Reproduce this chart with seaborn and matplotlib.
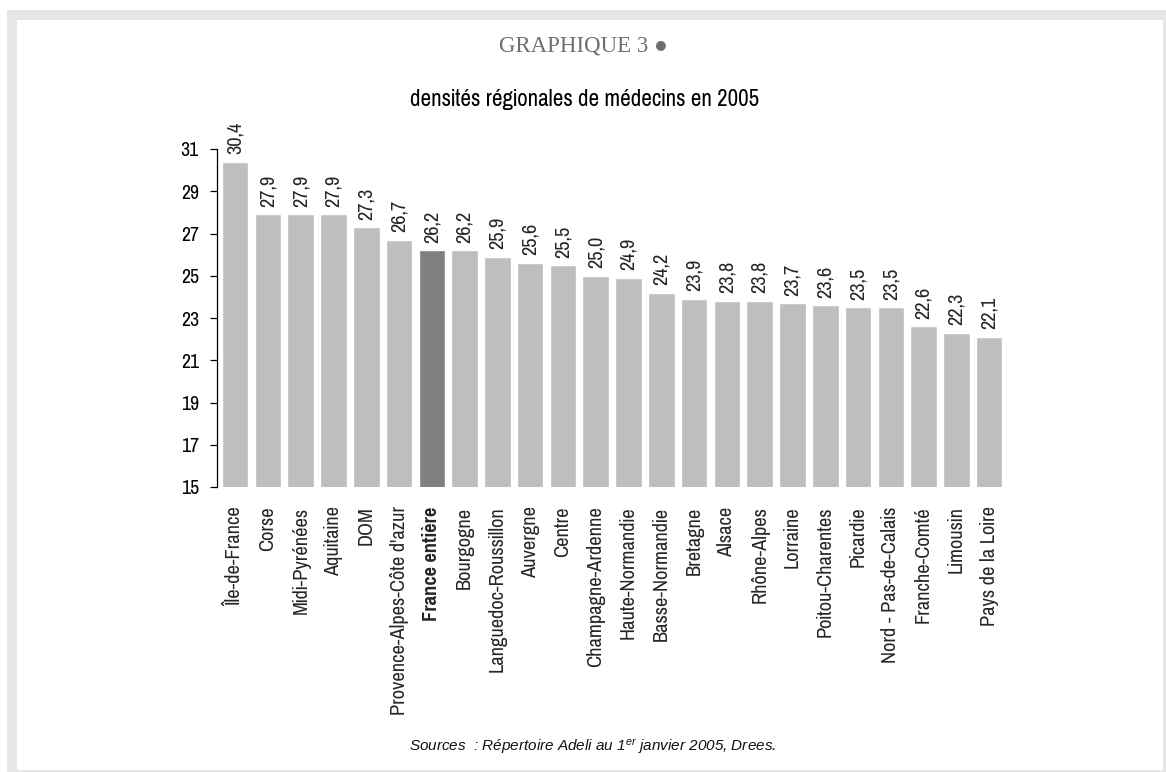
import matplotlib
matplotlib.use("Agg")
import matplotlib.pyplot as plt
from matplotlib.patches import Rectangle
import seaborn as sns
import pandas as pd

# Densité de médecins par région (pour 10 000 habitants), 2005
regions = [
    "Île-de-France", "Corse", "Midi-Pyrénées", "Aquitaine", "DOM",
    "Provence-Alpes-Côte d'azur", "France entière", "Bourgogne",
    "Languedoc-Roussillon", "Auvergne", "Centre", "Champagne-Ardenne",
    "Haute-Normandie", "Basse-Normandie", "Bretagne", "Alsace",
    "Rhône-Alpes", "Lorraine", "Poitou-Charentes", "Picardie",
    "Nord - Pas-de-Calais", "Franche-Comté", "Limousin", "Pays de la Loire",
]
densites = [
    30.4, 27.9, 27.9, 27.9, 27.3, 26.7, 26.2, 26.2, 25.9, 25.6, 25.5, 25.0,
    24.9, 24.2, 23.9, 23.8, 23.8, 23.7, 23.6, 23.5, 23.5, 22.6, 22.3, 22.1,
]
yticks = [15, 17, 19, 21, 23, 25, 27, 29, 31]
reference = "France entière"

sns.set_theme(style="white")
NARROW = ["Pragati Narrow", "Archivo Narrow", "Liberation Sans", "DejaVu Sans"]
plt.rcParams["font.family"] = NARROW
plt.rcParams["mathtext.fontset"] = "custom"
plt.rcParams["mathtext.rm"] = "Liberation Sans"
plt.rcParams["mathtext.it"] = "Liberation Sans:italic"

W, H = 1166, 772
fig = plt.figure(figsize=(W / 100, H / 100), dpi=100)
fig.patch.set_facecolor("white")

# cadre gris autour de la figure
frame = "#e6e6e6"
def px_rect(x0, y0, x1, y1):
    fig.patches.append(Rectangle((x0 / W, 1 - y1 / H), (x1 - x0) / W, (y1 - y0) / H,
                                 transform=fig.transFigure, color=frame, lw=0, zorder=0))
px_rect(7, 10, W, 20)
px_rect(7, 10, 17, H)
px_rect(1163, 10, W, H)
px_rect(7, 770, W, H)

ax_l, ax_r, ax_t, ax_b = 217, 1050, 149, 487
ax = fig.add_axes([ax_l / W, 1 - ax_b / H, (ax_r - ax_l) / W, (ax_b - ax_t) / H])

df = pd.DataFrame({"region": regions, "densite": densites})
colors = ["#808080" if r == reference else "#bebebe" for r in regions]
sns.barplot(data=df, x="region", y="densite", hue="region", palette=colors,
            legend=False, width=0.81, saturation=1, ax=ax)

ax.set_ylim(15, 31)
ax.set_xlim(-0.555, -0.555 + (ax_r - ax_l) / 32.78)
ax.set_xlabel("")
ax.set_ylabel("")
for side in ["top", "right", "bottom"]:
    ax.spines[side].set_visible(False)
ax.spines["left"].set_color("black")
ax.spines["left"].set_linewidth(0.9)
ax.set_yticks(yticks)
ax.set_yticklabels([str(t) for t in yticks], fontsize=15.5)
ax.tick_params(axis="y", left=True, length=5, width=0.9, pad=8, colors="black")
ax.tick_params(axis="x", bottom=False, length=0, pad=14)
ax.set_xticks(range(len(regions)))
ax.set_xticklabels(regions, rotation=90, ha="center", va="top", fontsize=16)
for lbl in ax.get_xticklabels():
    if lbl.get_text() == reference:
        lbl.set_fontweight("bold")

for i, v in enumerate(densites):
    ax.annotate(f"{v:.1f}".replace(".", ","), (i, v), xytext=(0, 5.5),
                textcoords="offset points", rotation=90, ha="center", va="bottom",
                fontsize=16, annotation_clip=False)

fig.text(583 / W, 1 - 46 / H, "GRAPHIQUE 3 ●", ha="center", va="center",
         fontsize=16.5, color="#6e6e6e", family=["Liberation Serif", "DejaVu Sans"])
fig.text(585 / W, 1 - 100 / H, "densités régionales de médecins en 2005",
         ha="center", va="center", fontsize=18, color="black")
fig.text(593 / W, 1 - 747 / H,
         "Sources  : Répertoire Adeli au 1$^{\\mathit{er}}$ janvier 2005, Drees.",
         ha="center", va="center", fontsize=11, style="italic", color="#111111",
         family=["Liberation Sans", "DejaVu Sans"])

fig.savefig("out.png", dpi=100, facecolor="white")
